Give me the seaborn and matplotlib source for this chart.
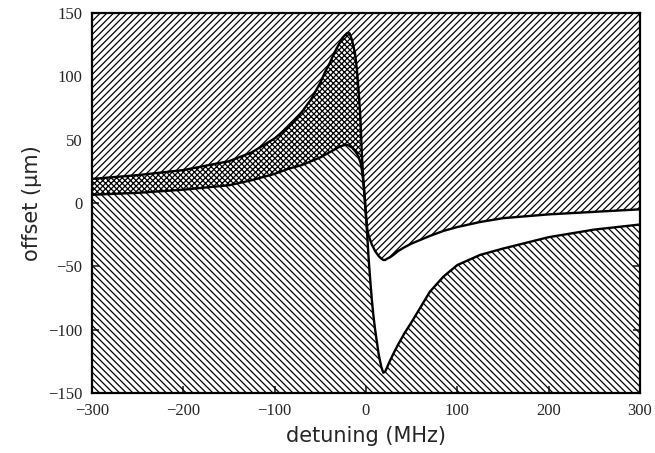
import numpy as np
import pandas as pd
import seaborn as sns
import matplotlib
matplotlib.use("Agg")
import matplotlib.pyplot as plt

detuning = [-300, -250, -200, -150, -125, -100, -85, -70, -60, -50, -45, -40, -35, -30,
            -25, -21, -18, -15, -12, -10, -8, -6, -4.5, -3, -1.5, 0, 1.5, 3, 5, 6.5,
            8, 10, 12, 14, 17, 19, 21, 23, 26, 30, 35, 42, 50, 60, 70, 85, 100, 125,
            150, 200, 250, 300]

# upper boundary of the "\\" region (large dispersion curve)
big_curve = [19, 22, 26, 33, 40, 51, 60, 72, 82, 95, 103, 110, 118, 125,
             131, 134, 134, 128, 118, 106, 88, 66, 38, 20, 5, -10, -27, -45, -64, -77,
             -88, -100, -110, -120, -130, -134, -133, -130, -125, -119, -112, -103, -94, -82, -70, -58, -49, -41,
             -36, -27, -21, -17]

# lower boundary of the "/" region (small dispersion curve)
small_curve = [6.5, 8, 10.5, 14, 18, 23, 27, 30, 33, 36, 38, 40, 42, 44,
               45.5, 46, 45, 43.5, 41, 39, 36, 32, 26, 17, 5, -10, -21, -26, -30, -33,
               -35, -38, -40, -42, -44, -45, -45, -44, -43, -41, -38, -35, -32, -29, -26, -22, -19, -15,
               -12, -9, -7, -5]

x_ticks = [-300, -200, -100, 0, 100, 200, 300]
y_ticks = [-150, -100, -50, 0, 50, 100, 150]

df = pd.DataFrame({"detuning": detuning, "big": big_curve, "small": small_curve})

sns.set_theme(style="ticks")
plt.rcParams["font.family"] = ["Liberation Serif", "DejaVu Serif"]
plt.rcParams["hatch.linewidth"] = 0.9
plt.rcParams["hatch.color"] = "black"

fig = plt.figure(figsize=(6.55, 4.53), dpi=100)
ax = fig.add_axes([0.1405, 0.1325, 0.8365, 0.8388])

x = df["detuning"].to_numpy()
big = df["big"].to_numpy()
small = df["small"].to_numpy()

# region above the small curve
ax.fill_between(x, small, 150, facecolor="white", edgecolor="black", hatch="/" * 5, linewidth=0)
# region below the large curve
ax.fill_between(x, -150, big, facecolor="none", edgecolor="black", hatch="\\" * 5, linewidth=0)
# overlap of both regions -> cross-hatched
ax.fill_between(x, small, big, where=big >= small, interpolate=True,
                facecolor="white", edgecolor="black", hatch="x" * 6, linewidth=0)

sns.lineplot(data=df, x="detuning", y="big", color="black", linewidth=1.7, ax=ax)
sns.lineplot(data=df, x="detuning", y="small", color="black", linewidth=1.7, ax=ax)

ax.set_xlim(-300, 300)
ax.set_ylim(-150, 150)
ax.set_xticks(x_ticks)
ax.set_yticks(y_ticks)
ax.tick_params(direction="in", length=5, width=1.2, top=True, right=True,
               labelsize=12, pad=7)
for spine in ax.spines.values():
    spine.set_linewidth(1.6)
    spine.set_color("black")
    spine.set_zorder(5)

ax.set_xlabel("detuning (MHz)", fontsize=15, family=["DejaVu Sans"], labelpad=5)
ax.set_ylabel("offset (μm)", fontsize=15, family=["DejaVu Sans"], labelpad=4)

fig.savefig("out.png", dpi=100)
